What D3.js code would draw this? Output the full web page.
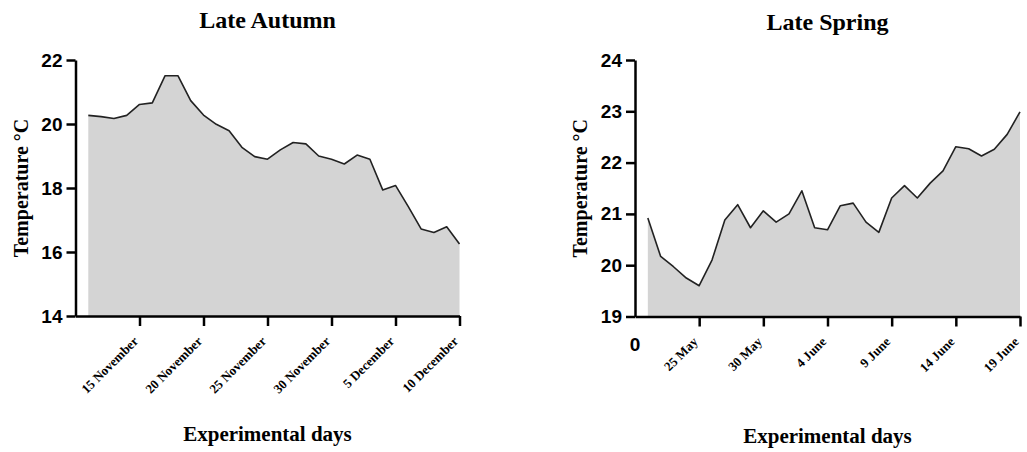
<!DOCTYPE html>
<html>
<head>
<meta charset="utf-8">
<script src="https://cdn.jsdelivr.net/npm/d3@7"></script>
<style>
  body { margin: 0; background: #fff; }
  .axis path, .axis line { stroke: #000; stroke-width: 2.5px; }
  .y-axis text { font-family: "Liberation Sans", Arial, sans-serif; font-weight: bold; font-size: 19px; fill: #000; }
  .x-axis text { font-family: "Liberation Serif", "Times New Roman", serif; font-weight: bold; font-size: 13px; fill: #000; }
  .chart-title, .axis-title { font-family: "Liberation Serif", "Times New Roman", serif; font-weight: bold; fill: #000; }
  .chart-title { font-size: 24px; }
  .axis-title { font-size: 21px; }
  .origin-label { font-family: "Liberation Sans", Arial, sans-serif; font-weight: bold; font-size: 19px; }
</style>
</head>
<body>
<div id="chart"></div>
<script>
// Late autumn: daily mean temperature, 11 Nov - 10 Dec
const autumnStart = '2020-11-11';
const autumnTemps = [20.27, 20.23, 20.17, 20.27, 20.61, 20.66, 21.51, 21.51, 20.73, 20.28,
                     19.99, 19.79, 19.27, 18.98, 18.90, 19.19, 19.42, 19.38, 19.00, 18.90,
                     18.75, 19.03, 18.90, 17.94, 18.08, 17.42, 16.72, 16.61, 16.79, 16.25];
const autumnTicks = ['2020-11-15', '2020-11-20', '2020-11-25', '2020-11-30', '2020-12-05', '2020-12-10'];
const autumnYTicks = [14, 16, 18, 20, 22];

// Late spring: daily mean temperature, 21 May - 19 June
const springStart = '2020-05-21';
const springTemps = [20.92, 20.17, 19.97, 19.75, 19.60, 20.10, 20.88, 21.18, 20.73, 21.06,
                     20.84, 21.00, 21.45, 20.73, 20.69, 21.16, 21.21, 20.84, 20.64, 21.31,
                     21.55, 21.31, 21.60, 21.84, 22.31, 22.27, 22.13, 22.26, 22.55, 22.99];
const springTicks = ['2020-05-25', '2020-05-30', '2020-06-04', '2020-06-09', '2020-06-14', '2020-06-19'];
const springYTicks = [19, 20, 21, 22, 23, 24];

const parseDate = d3.utcParse('%Y-%m-%d');
const formatDate = d3.utcFormat('%-d %B');

const svg = d3.select('#chart').append('svg')
    .attr('width', 1027)
    .attr('height', 452);

class TempArea {
  constructor(_config, _temps) {
    this.config = _config;
    this.temps = _temps;
    this.initVis();
  }

  initVis() {
    const vis = this;
    const c = vis.config;

    const start = parseDate(c.start);
    vis.data = vis.temps.map((t, i) => ({date: d3.utcDay.offset(start, i), temp: t}));

    // axis origin sits one day before the first reading
    vis.xScale = d3.scaleUtc()
        .domain([d3.utcDay.offset(start, -1), vis.data[vis.data.length - 1].date])
        .range([c.left, c.right]);

    vis.yScale = d3.scaleLinear()
        .domain(c.yDomain)
        .range([c.bottom, c.top]);

    vis.g = svg.append('g');

    const area = d3.area()
        .x(d => vis.xScale(d.date))
        .y0(vis.yScale(c.yDomain[0]))
        .y1(d => vis.yScale(d.temp));

    const line = d3.line()
        .x(d => vis.xScale(d.date))
        .y(d => vis.yScale(d.temp));

    vis.g.append('path')
        .datum(vis.data)
        .attr('fill', '#d4d4d4')
        .attr('d', area);

    vis.g.append('path')
        .datum(vis.data)
        .attr('fill', 'none')
        .attr('stroke', '#222')
        .attr('stroke-width', 1.6)
        .attr('stroke-linejoin', 'round')
        .attr('d', line);

    // Axes
    const xAxis = d3.axisBottom(vis.xScale)
        .tickValues(c.xTicks.map(parseDate))
        .tickSize(10)
        .tickSizeOuter(0)
        .tickFormat(formatDate);

    const yAxis = d3.axisLeft(vis.yScale)
        .tickValues(c.yTicks)
        .tickSize(9)
        .tickPadding(4)
        .tickSizeOuter(0)
        .tickFormat(d3.format('d'));

    // slanted date labels, end of each label sits under its tick
    vis.g.append('g')
        .attr('class', 'axis x-axis')
        .attr('transform', `translate(0,${c.bottom})`)
        .call(xAxis)
        .selectAll('text')
        .attr('x', null)
        .attr('y', null)
        .attr('dy', null)
        .style('text-anchor', 'end')
        .attr('transform', 'translate(-1,26) rotate(-45)');

    vis.g.append('g')
        .attr('class', 'axis y-axis')
        .attr('transform', `translate(${c.left},0)`)
        .call(yAxis);

    // Titles
    const midX = (c.left + c.right) / 2;
    vis.g.append('text')
        .attr('class', 'chart-title')
        .attr('x', midX)
        .attr('y', c.titleY)
        .attr('text-anchor', 'middle')
        .text(c.title);

    vis.g.append('text')
        .attr('class', 'axis-title')
        .attr('transform', `translate(${c.left - 48},${(c.top + c.bottom) / 2}) rotate(-90)`)
        .attr('text-anchor', 'middle')
        .style('font-size', '20px')
        .text('Temperature °C');

    vis.g.append('text')
        .attr('class', 'axis-title')
        .attr('x', midX)
        .attr('y', c.xTitleY)
        .attr('text-anchor', 'middle')
        .text('Experimental days');

    if (c.originLabel) {
      vis.g.append('text')
          .attr('class', 'origin-label')
          .attr('x', c.left)
          .attr('y', c.bottom + 34)
          .attr('text-anchor', 'middle')
          .text(c.originLabel);
    }
  }
}

new TempArea({
  title: 'Late Autumn', start: autumnStart, xTicks: autumnTicks, yTicks: autumnYTicks,
  yDomain: [14, 22], left: 75.5, right: 459.5, top: 60, bottom: 316,
  titleY: 28, xTitleY: 441
}, autumnTemps);

new TempArea({
  title: 'Late Spring', start: springStart, xTicks: springTicks, yTicks: springYTicks,
  yDomain: [19, 24], left: 635, right: 1020, top: 60, bottom: 316.5,
  titleY: 30, xTitleY: 443, originLabel: '0'
}, springTemps);
</script>
</body>
</html>
